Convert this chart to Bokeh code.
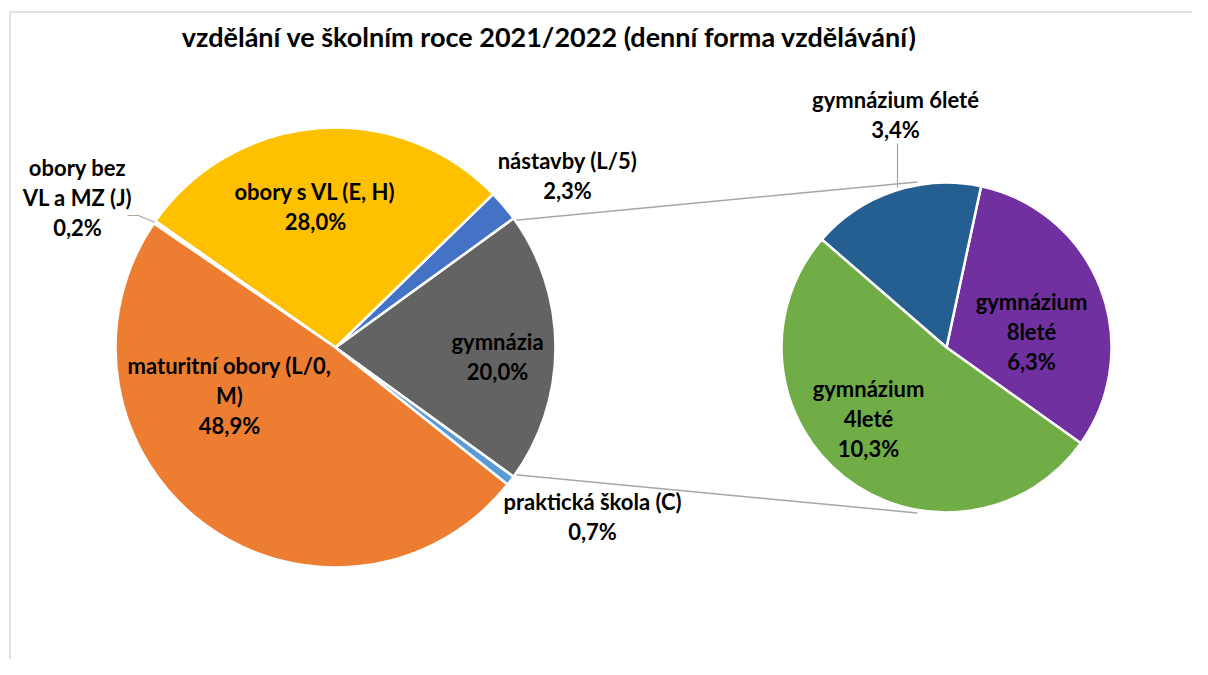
import math
from bokeh.plotting import figure
from bokeh.models import Range1d, ColumnDataSource
from bokeh.core.properties import value
from bokeh.embed import file_html
from bokeh.resources import INLINE

# ---------------- data ----------------
title_text = "vzdělání ve školním roce 2021/2022 (denní forma vzdělávání)"

main_names = ["gymnázia", "nástavby (L/5)", "obory s VL (E, H)",
              "obory bez VL a MZ (J)", "maturitní obory (L/0, M)", "praktická škola (C)"]
main_values = [20.0, 2.3, 28.0, 0.2, 48.9, 0.7]
main_label_lines = [["gymnázia"], ["nástavby (L/5)"], ["obory s VL (E, H)"],
                    ["obory bez", "VL a MZ (J)"], ["maturitní obory (L/0,", "M)"],
                    ["praktická škola (C)"]]

sec_names = ["gymnázium 8leté", "gymnázium 6leté", "gymnázium 4leté"]
sec_values = [6.3, 3.4, 10.3]
sec_label_lines = [["gymnázium", "8leté"], ["gymnázium 6leté"], ["gymnázium", "4leté"]]

# ---------------- styles / layout ----------------
main_colors = ["#636363", "#4472C4", "#FFC000", "#A5A5A5", "#ED7D31", "#5B9BD5"]
sec_colors = ["#7030A0", "#255E91", "#70AD47"]

W, H = 1192, 659


def Y(py):
    # picture y (pixels from top) -> data y (upwards)
    return H - py


C1x, C1y, R1 = 335, Y(347), 220
C2x, C2y, R2 = 946, Y(347), 165
sec_start = math.radians(-35.5)

main_label_pos = [(497, 356), (567, 175), (315, 206), (77, 197), (229, 395), (592, 516)]
sec_label_pos = [(1031, 331), (895, 114), (868, 418)]

FONT = "Lato"
FSIZE = "22px"
LINE_H = 1.12


def fmt(v):
    return ("%.1f" % v).replace(".", ",") + "%"


def wedges(values, start):
    total = sum(values)
    starts, ends = [], []
    a = start
    for v in values:
        starts.append(a)
        a += 2 * math.pi * v / total
        ends.append(a)
    return starts, ends


main_total = sum(main_values)
m_start = -math.pi * main_values[0] / main_total
ms, me = wedges(main_values, m_start)
ss, se = wedges(sec_values, sec_start)

p = figure(width=W, height=H, x_range=Range1d(0, W), y_range=Range1d(0, H),
           output_backend="svg", toolbar_location=None, min_border=0,
           x_axis_type=None, y_axis_type=None)
p.outline_line_color = None
p.background_fill_color = "white"
p.border_fill_color = "white"

# chart area border
p.line([9.5, 9.5], [Y(11.5), Y(700)], line_color="#D9D9D9", line_width=1.5)
p.line([9.5, 1300], [Y(11.5), Y(11.5)], line_color="#D9D9D9", line_width=1.5)

# connector lines between pies
a_top, a_bot = me[0], ms[0]
r_end = R2 + 3
p.line([C1x + (R1 - 4) * math.cos(a_top), C2x + r_end * math.cos(math.radians(100))],
       [C1y + (R1 - 4) * math.sin(a_top), C2y + r_end * math.sin(math.radians(100))],
       line_color="#A6A6A6", line_width=1.5)
p.line([C1x + (R1 - 4) * math.cos(a_bot), C2x + r_end * math.cos(math.radians(-100))],
       [C1y + (R1 - 4) * math.sin(a_bot), C2y + r_end * math.sin(math.radians(-100))],
       line_color="#A6A6A6", line_width=1.5)

src1 = ColumnDataSource(dict(x=[C1x] * len(main_values), y=[C1y] * len(main_values),
                             s=ms, e=me, c=main_colors, name=main_names))
p.wedge(x="x", y="y", radius=R1, radius_units="screen", start_angle="s", end_angle="e",
        fill_color="c", line_color="white", line_width=2.5, source=src1)

src2 = ColumnDataSource(dict(x=[C2x] * len(sec_values), y=[C2y] * len(sec_values),
                             s=ss, e=se, c=sec_colors, name=sec_names))
p.wedge(x="x", y="y", radius=R2, radius_units="screen", start_angle="s", end_angle="e",
        fill_color="c", line_color="white", line_width=2.5, source=src2)

# leader lines
a_j = (ms[3] + me[3]) / 2
p.line([127, 138, C1x + R1 * math.cos(a_j)], [Y(215), Y(215), C1y + R1 * math.sin(a_j)],
       line_color="#A6A6A6", line_width=1.2)
p.line([897, 897], [Y(143), Y(187)], line_color="#A6A6A6", line_width=1.2)

# labels
lx, ly, lt = [], [], []
for (px, py), lines, v in zip(main_label_pos, main_label_lines, main_values):
    lx.append(px)
    ly.append(Y(py))
    lt.append("\n".join(lines + [fmt(v)]))
for (px, py), lines, v in zip(sec_label_pos, sec_label_lines, sec_values):
    lx.append(px)
    ly.append(Y(py))
    lt.append("\n".join(lines + [fmt(v)]))
p.text(x=lx, y=ly, text=lt, text_font=value(FONT), text_font_style="bold",
       text_font_size=FSIZE, text_align="center", text_baseline="middle",
       text_line_height=LINE_H, text_color="#000000")

# title (kept fully visible at the top)
p.text(x=[549], y=[Y(36)], text=[title_text], text_font=value(FONT), text_font_style="bold",
       text_font_size="27px", text_align="center", text_baseline="alphabetic",
       text_color="#000000")

open("out.html", "w").write(file_html(p, INLINE))
